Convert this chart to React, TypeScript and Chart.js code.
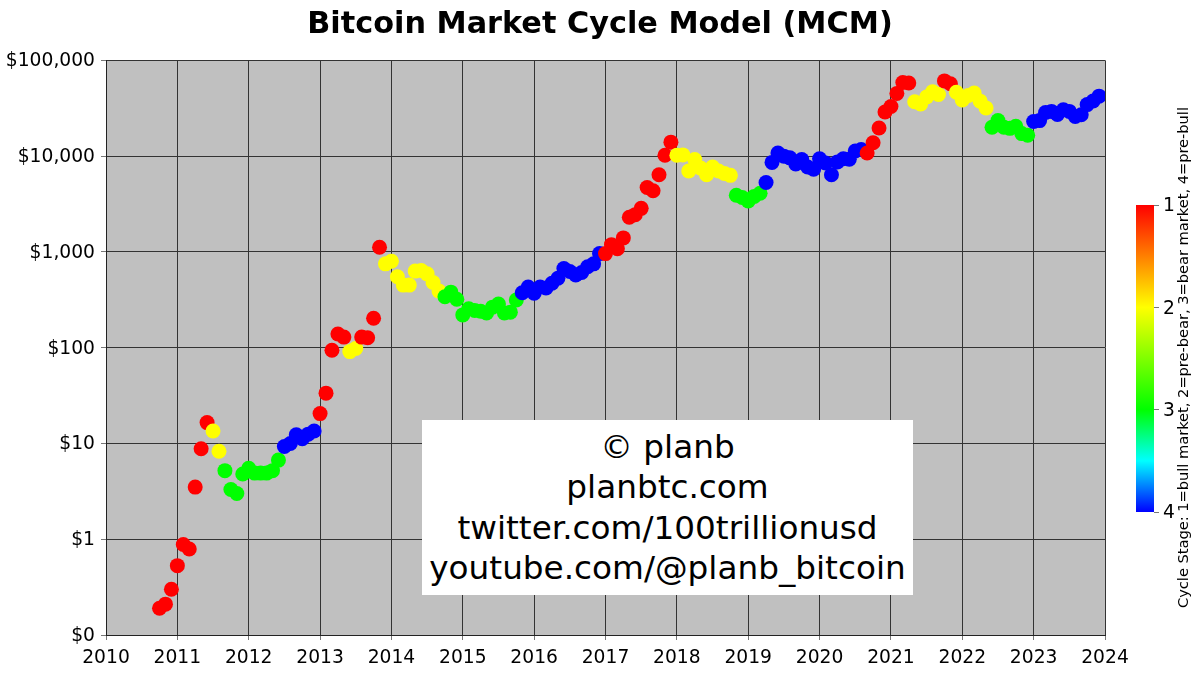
import { useEffect, useRef } from 'react';
import { Chart, registerables } from 'chart.js';

Chart.register(...registerables);

const FONT = '"DejaVu Sans", sans-serif';

// month-end prices, first one is Oct 2010
const firstMonth = 2010 + 9 / 12;
const prices2010 = [0.19, 0.21, 0.3];
const prices2011 = [0.53, 0.88, 0.79, 3.5, 8.8, 16.5, 13.5, 8.3, 5.2, 3.3, 3.0, 4.8];
const prices2012 = [5.5, 4.9, 4.9, 4.9, 5.2, 6.7, 9.3, 10, 12.3, 11.2, 12.5, 13.5];
const prices2013 = [20.5, 33.5, 94, 139, 129, 91, 98, 129, 127, 203, 1120, 750];
const prices2014 = [800, 550, 450, 450, 630, 640, 590, 480, 390, 340, 380, 320];
const prices2015 = [220, 255, 245, 240, 230, 265, 285, 230, 235, 315, 375, 430];
const prices2016 = [370, 430, 420, 470, 530, 670, 625, 575, 610, 700, 750, 960];
const prices2017 = [960, 1190, 1080, 1400, 2300, 2450, 2850, 4700, 4350, 6400, 10200, 14000];
const prices2018 = [10200, 10300, 7000, 9200, 7500, 6400, 7700, 7000, 6600, 6300, 3900, 3700];
const prices2019 = [3400, 3800, 4100, 5300, 8600, 10800, 10000, 9600, 8300, 9200, 7700, 7300];
const prices2020 = [9400, 8500, 6400, 8700, 9400, 9300, 11300, 11700, 10800, 13800, 19700, 28900];
const prices2021 = [33000, 45200, 58800, 58000, 37000, 35000, 41500, 47000, 44000, 61000, 57000, 46500];
const prices2022 = [38500, 43000, 45500, 37500, 31800, 20000, 23500, 20000, 19500, 20500, 17200, 16500];
const prices2023 = [23000, 23500, 28500, 29300, 27200, 30500, 29300, 26000, 27000, 34500, 37700, 42300];

// cycle stage per month: 1 bull, 2 pre-bear, 3 bear, 4 pre-bull
const stages2010 = [1, 1, 1];
const stages2011 = [1, 1, 1, 1, 1, 1, 2, 2, 3, 3, 3, 3];
const stages2012 = [3, 3, 3, 3, 3, 3, 4, 4, 4, 4, 4, 4];
const stages2013 = [1, 1, 1, 1, 1, 2, 2, 1, 1, 1, 1, 2];
const stages2014 = [2, 2, 2, 2, 2, 2, 2, 2, 2, 3, 3, 3];
const stages2015 = [3, 3, 3, 3, 3, 3, 3, 3, 3, 3, 4, 4];
const stages2016 = [4, 4, 4, 4, 4, 4, 4, 4, 4, 4, 4, 4];
const stages2017 = [1, 1, 1, 1, 1, 1, 1, 1, 1, 1, 1, 1];
const stages2018 = [2, 2, 2, 2, 2, 2, 2, 2, 2, 2, 3, 3];
const stages2019 = [3, 3, 3, 4, 4, 4, 4, 4, 4, 4, 4, 4];
const stages2020 = [4, 4, 4, 4, 4, 4, 4, 4, 1, 1, 1, 1];
const stages2021 = [1, 1, 1, 1, 2, 2, 2, 2, 2, 1, 1, 2];
const stages2022 = [2, 2, 2, 2, 2, 3, 3, 3, 3, 3, 3, 3];
const stages2023 = [4, 4, 4, 4, 4, 4, 4, 4, 4, 4, 4, 4];

const prices = [
  ...prices2010, ...prices2011, ...prices2012, ...prices2013, ...prices2014,
  ...prices2015, ...prices2016, ...prices2017, ...prices2018, ...prices2019,
  ...prices2020, ...prices2021, ...prices2022, ...prices2023,
];
const stages = [
  ...stages2010, ...stages2011, ...stages2012, ...stages2013, ...stages2014,
  ...stages2015, ...stages2016, ...stages2017, ...stages2018, ...stages2019,
  ...stages2020, ...stages2021, ...stages2022, ...stages2023,
];

const priceTicks = [0.1, 1, 10, 100, 1000, 10000, 100000];
const priceLabels = ['$0', '$1', '$10', '$100', '$1,000', '$10,000', '$100,000'];
const stageColors: Record<number, string> = { 1: '#ff0000', 2: '#ffff00', 3: '#00ff00', 4: '#0000ff' };
const creditLines = ['© planb', 'planbtc.com', 'twitter.com/100trillionusd', 'youtube.com/@planb_bitcoin'];
const stageCaption = 'Cycle Stage: 1=bull market, 2=pre-bear, 3=bear market, 4=pre-bull';

export default function App() {
  const chartRef = useRef<HTMLCanvasElement>(null);
  const barRef = useRef<HTMLCanvasElement>(null);

  useEffect(() => {
    const chart = new Chart(chartRef.current!, {
      type: 'scatter',
      data: {
        datasets: [
          {
            data: prices.map((p, i) => ({ x: firstMonth + i / 12, y: p })),
            backgroundColor: stages.map((s) => stageColors[s]),
            pointRadius: 7.5,
            pointBorderWidth: 0,
          },
        ],
      },
      options: {
        animation: false,
        responsive: false,
        plugins: {
          legend: { display: false },
          tooltip: { enabled: false },
          title: {
            display: true,
            text: 'Bitcoin Market Cycle Model (MCM)',
            color: '#000',
            font: { family: FONT, size: 30.3, weight: 'bold', lineHeight: 1.2 },
            padding: { top: 7, bottom: 17 },
          },
        },
        scales: {
          x: {
            type: 'linear',
            min: 2010,
            max: 2024,
            afterFit: (s: any) => { s.height = 39; },
            border: { color: '#222' },
            grid: { color: '#333', tickColor: '#777', tickLength: 5 },
            ticks: {
              stepSize: 1,
              color: '#000',
              maxRotation: 0,
              autoSkip: false,
              padding: 7,
              font: { family: FONT, size: 18.7 },
              callback: (v: any) => String(v),
            },
          },
          y: {
            type: 'logarithmic',
            min: 0.1,
            max: 100000,
            afterFit: (s: any) => { s.width = 106; },
            afterBuildTicks: (s: any) => { s.ticks = priceTicks.map((value) => ({ value })); },
            border: { color: '#222' },
            grid: { color: '#333', tickColor: '#777', tickLength: 5 },
            ticks: {
              color: '#000',
              padding: 6,
              autoSkip: false,
              labelOffset: 1,
              font: { family: FONT, size: 18.7 },
              callback: (v: any) => priceLabels[priceTicks.indexOf(Number(v))],
            },
          },
          // empty axis keeps room for the colour bar, padding would push the title off centre
          gutter: {
            type: 'linear',
            position: 'right',
            afterFit: (s: any) => { s.width = 95; },
            border: { display: false },
            grid: { display: false },
            ticks: { display: false },
          },
        },
      },
      plugins: [
        {
          id: 'plotBackground',
          beforeDraw: (c) => {
            const { ctx, chartArea: a } = c;
            ctx.save();
            ctx.fillStyle = '#c0c0c0';
            ctx.fillRect(a.left, a.top, a.right - a.left, a.bottom - a.top);
            ctx.restore();
          },
        },
      ],
    });

    const bar = new Chart(barRef.current!, {
      type: 'bar',
      data: {
        labels: ['stage'],
        datasets: [
          {
            data: [[1, 4]],
            barPercentage: 1,
            categoryPercentage: 1,
            borderWidth: 0,
            backgroundColor: (c: any) => {
              const a = c.chart.chartArea;
              if (!a) return '#ff0000';
              const g = c.chart.ctx.createLinearGradient(0, a.top, 0, a.bottom);
              g.addColorStop(0, '#ff0000');
              g.addColorStop(1 / 3, '#ffff00');
              g.addColorStop(2 / 3, '#00ff00');
              g.addColorStop(5 / 6, '#00ffff');
              g.addColorStop(1, '#0000ff');
              return g;
            },
          } as any,
        ],
      },
      options: {
        animation: false,
        responsive: false,
        layout: { padding: { left: 6, top: 205, bottom: 162 } },
        plugins: { legend: { display: false }, tooltip: { enabled: false } },
        scales: {
          x: { display: false },
          y: {
            position: 'right',
            reverse: true,
            min: 1,
            max: 4,
            afterFit: (s: any) => { s.width = 46; },
            border: { display: false },
            grid: { drawOnChartArea: false, tickColor: '#777', tickLength: 5 },
            ticks: {
              stepSize: 1,
              color: '#000',
              padding: 4,
              labelOffset: 1.5,
              font: { family: FONT, size: 18.7 },
            },
          },
        },
      },
    });

    return () => {
      chart.destroy();
      bar.destroy();
    };
  }, []);

  return (
    <div style={{ position: 'absolute', left: 0, top: 0, width: 1200, height: 674, overflow: 'hidden', background: '#fff' }}>
      <canvas ref={chartRef} width={1200} height={674} style={{ position: 'absolute', left: 0, top: 0 }} />
      <canvas ref={barRef} width={70} height={674} style={{ position: 'absolute', left: 1130, top: 0 }} />
      <div
        style={{
          position: 'absolute',
          left: 422,
          top: 420,
          width: 491,
          height: 175,
          paddingTop: 7,
          boxSizing: 'border-box',
          background: '#fff',
          color: '#000',
          textAlign: 'center',
          fontFamily: FONT,
          fontSize: 32.7,
          lineHeight: '40.4px',
          whiteSpace: 'nowrap',
        }}
      >
        {creditLines.map((line) => (
          <div key={line}>{line}</div>
        ))}
      </div>
      <div
        style={{
          position: 'absolute',
          left: 1174,
          top: 107,
          height: 501,
          writingMode: 'vertical-rl',
          transform: 'rotate(180deg)',
          textAlign: 'center',
          fontFamily: FONT,
          fontSize: 14.6,
          lineHeight: '17px',
          color: '#000',
          whiteSpace: 'nowrap',
        }}
      >
        {stageCaption}
      </div>
    </div>
  );
}
